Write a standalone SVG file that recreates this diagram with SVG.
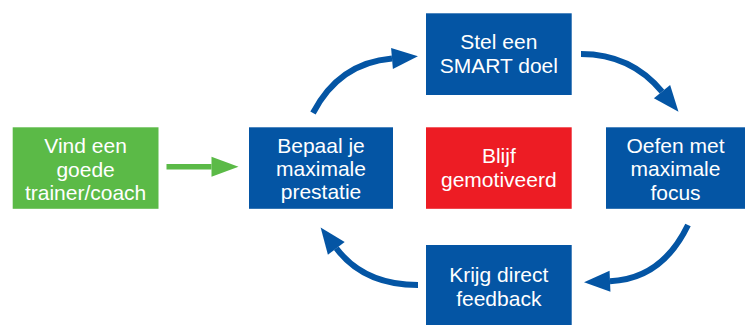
<svg xmlns="http://www.w3.org/2000/svg" width="745" height="325" viewBox="0 0 745 325">
  <style>
    .blue { fill: #0455a4; }
    .green { fill: #5bba47; }
    .red { fill: #ed1c24; }
    .lbl { fill: #ffffff; font-family: "Liberation Sans", Arial, sans-serif; font-size: 21px; text-anchor: middle; }
    .cycle { fill: none; stroke: #0455a4; stroke-width: 6; }
    .start { fill: none; stroke: #5bba47; stroke-width: 5.5; }
  </style>
  <defs>
    <marker id="headBlue" markerUnits="userSpaceOnUse" markerWidth="28" markerHeight="24" refX="0" refY="10.5" orient="auto" viewBox="0 0 28 21" overflow="visible">
      <path d="M0,0 L26,10.5 L0,21 Z" fill="#0455a4"/>
    </marker>
    <marker id="headGreen" markerUnits="userSpaceOnUse" markerWidth="28" markerHeight="22" refX="0" refY="10" orient="auto" viewBox="0 0 28 20" overflow="visible">
      <path d="M0,0 L27,10 L0,20 Z" fill="#5bba47"/>
    </marker>
  </defs>

  <g id="connectors">
    <path class="start" d="M166.5,166.7 H211.5" marker-end="url(#headGreen)"/>
    <path class="cycle" d="M313,113 Q339,63 392,58.5" marker-end="url(#headBlue)"/>
    <path class="cycle" d="M581,54 Q631,54 662,91.7" marker-end="url(#headBlue)"/>
    <path class="cycle" d="M688,225 Q662,279 610,281.2" marker-end="url(#headBlue)"/>
    <path class="cycle" d="M418,285 Q364,285 336.3,248.3" marker-end="url(#headBlue)"/>
  </g>

  <g id="trainer">
    <rect class="green" x="12.7" y="127.3" width="145.8" height="81.5"/>
    <text class="lbl" x="85.6" y="152.7">Vind een</text>
    <text class="lbl" x="85.6" y="176.5">goede</text>
    <text class="lbl" x="85.6" y="200.3">trainer/coach</text>
  </g>

  <g id="prestatie">
    <rect class="blue" x="249" y="127.3" width="144" height="81.5"/>
    <text class="lbl" x="321" y="152.7">Bepaal je</text>
    <text class="lbl" x="321" y="176">maximale</text>
    <text class="lbl" x="321" y="199.3">prestatie</text>
  </g>

  <g id="doel">
    <rect class="blue" x="426" y="13.3" width="145.7" height="81.7"/>
    <text class="lbl" x="498.8" y="49.3">Stel een</text>
    <text class="lbl" x="498.8" y="73.3">SMART doel</text>
  </g>

  <g id="motivatie">
    <rect class="red" x="426" y="127.3" width="145.7" height="81.5"/>
    <text class="lbl" x="498.8" y="162.7">Blijf</text>
    <text class="lbl" x="498.8" y="187.3">gemotiveerd</text>
  </g>

  <g id="focus">
    <rect class="blue" x="606" y="127.3" width="139" height="81.5"/>
    <text class="lbl" x="675.5" y="152.7">Oefen met</text>
    <text class="lbl" x="675.5" y="176">maximale</text>
    <text class="lbl" x="675.5" y="199.5">focus</text>
  </g>

  <g id="feedback">
    <rect class="blue" x="426" y="245" width="145.7" height="80"/>
    <text class="lbl" x="498.8" y="281.7">Krijg direct</text>
    <text class="lbl" x="498.8" y="305.7">feedback</text>
  </g>
</svg>
